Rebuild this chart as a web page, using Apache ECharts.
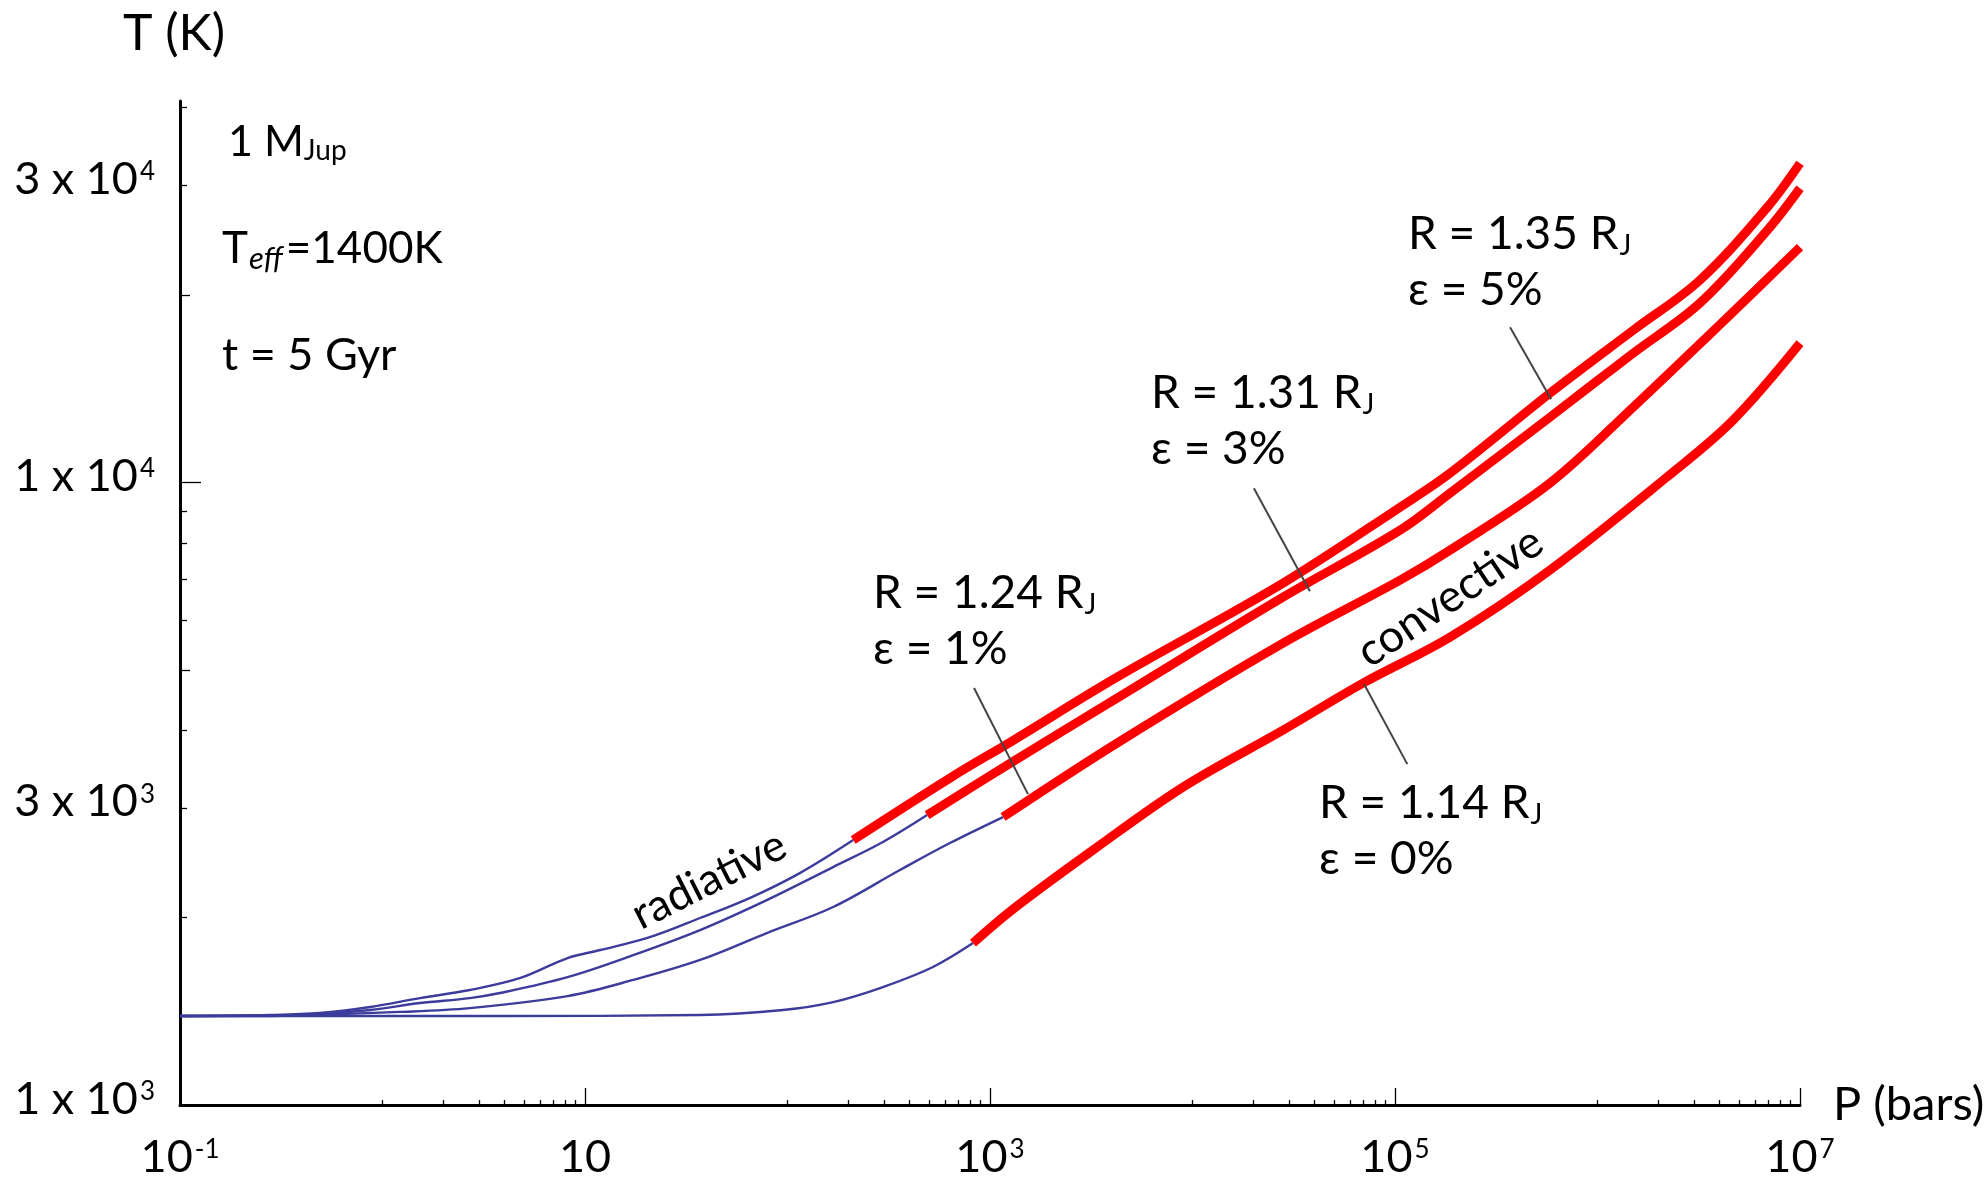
<!DOCTYPE html>
<html>
<head>
<meta charset="utf-8">
<script src="https://cdn.jsdelivr.net/npm/echarts@6/dist/echarts.min.js"></script>
<style>
  html, body { margin: 0; padding: 0; background: #ffffff; }
  #chart { width: 1986px; height: 1180px; }
</style>
</head>
<body>
<div id="chart"></div>
<script>
// Interior temperature-pressure profiles of a 1 M_Jup planet (Teff = 1400 K, t = 5 Gyr)
// for several heating efficiencies. Each profile: radiative part (thin) + convective part (thick).
const FONT = 'Lato, "Noto Sans", "DejaVu Sans", sans-serif';

// [P (bar), T (K)]
const radiative5 = [[0.1, 1390], [0.28, 1395], [0.49, 1405], [0.87, 1437], [1.53, 1485], [2.7, 1530], [4.8, 1600], [8.2, 1722], [11.9, 1774], [20.9, 1861], [37, 1997], [65, 2150], [115, 2358], [211, 2665]];
const convective5 = [[211, 2665], [634, 3351], [1285, 3843], [4240, 4867], [28000, 6891], [1.06e5, 9128], [1.87e5, 10350], [5.82e5, 13910], [1.5e6, 17560], [3.2e6, 21130], [6.9e6, 27680], [1e7, 32570]];

const radiative3 = [[0.1, 1390], [0.28, 1390], [0.49, 1400], [0.87, 1421], [1.53, 1458], [2.7, 1485], [3.8, 1513], [8.2, 1605], [17.3, 1741], [37, 1910], [79, 2134], [168, 2411], [296, 2645], [489, 2922]];
const convective3 = [[489, 2922], [1285, 3555], [4240, 4504], [28000, 6543], [1.06e5, 8382], [1.87e5, 9612], [5.82e5, 12730], [1.5e6, 16130], [3.2e6, 19410], [6.9e6, 25420], [1e7, 29690]];

const radiative1 = [[0.1, 1390], [0.39, 1395], [1.22, 1411], [2.7, 1431], [8.2, 1496], [17.3, 1588], [37, 1710], [79, 1889], [168, 2080], [359, 2385], [634, 2635], [1160, 2901]];
const convective1 = [[1160, 2901], [4240, 3814], [28000, 5520], [1.06e5, 6968], [1.87e5, 7786], [5.82e5, 9975], [1.5e6, 13210], [3.9e6, 17760], [1e7, 23880]];

const radiative0 = [[0.1, 1390], [3.8, 1390], [37, 1395], [95, 1421], [168, 1463], [296, 1547], [523, 1666], [824, 1820]];
const convective0 = [[824, 1820], [1300, 2064], [3230, 2568], [8980, 3241], [28000, 4001], [69500, 4761], [1.87e5, 5644], [5.82e5, 7232], [2.2e6, 10200], [4.67e6, 12590], [1e7, 16740]];

// leader lines from each label to its profile, [P, T]
const leader5 = [[3.7e5, 17760], [5.9e5, 13610]];
const leader3 = [[20100, 9790], [38000, 6690]];
const leader1 = [[834, 4675], [1540, 3158]];
const leader0 = [[1.15e5, 3528], [70300, 4745]];

// axis ticks
const yTickValues = [1000, 3000, 10000, 30000];
const yTickMantissa = ['1', '3', '1', '3'];
const yTickExponent = ['3', '3', '4', '4'];
const yLongTicks = [10000];
const yMidTicks = [5000, 20000];
const yShortTicks = [2000, 3000, 4000, 6000, 7000, 8000, 9000, 30000, 40000];

const xTickValues = [0.1, 10, 1e3, 1e5, 1e7];
const xTickExponent = ['-1', '', '3', '5', '7'];
const xLongTicks = [10, 1e3, 1e5, 1e7];
const xShortTicks = [
  1, 2, 3, 4, 5, 6, 7, 8, 9,
  100, 200, 300, 400, 500, 600, 700, 800, 900,
  1e4, 2e4, 3e4, 4e4, 5e4, 6e4, 7e4, 8e4, 9e4,
  1e6, 2e6, 3e6, 4e6, 5e6, 6e6, 7e6, 8e6, 9e6
];

// labels
const curveLabels = [
  { radius: 'R = 1.35 R', eps: 'ε = 5%' },
  { radius: 'R = 1.31 R', eps: 'ε = 3%' },
  { radius: 'R = 1.24 R', eps: 'ε = 1%' },
  { radius: 'R = 1.14 R', eps: 'ε = 0%' }
];

const T_MIN = 1000, T_MAX = 41000, P_MIN = 0.1, P_MAX = 1e7;

function nearestIndex(list, v) {
  let best = 0, bd = Infinity;
  list.forEach((t, i) => {
    const d = Math.abs(Math.log10(t) - Math.log10(v));
    if (d < bd) { bd = d; best = i; }
  });
  return best;
}

// ---- text helper: runs of text sharing one baseline ----
const mctx = document.createElement('canvas').getContext('2d');
function fontOf(size, italic) { return (italic ? 'italic ' : '') + size + 'px ' + FONT; }
function textRun(x, baseline, parts) {
  const out = [];
  let cx = x;
  parts.forEach(p => {
    const f = fontOf(p.size, p.italic);
    mctx.font = f;
    mctx.textBaseline = 'middle';
    const off = mctx.measureText('H').actualBoundingBoxDescent;
    cx += (p.gap || 0);
    out.push({
      type: 'text', x: cx, y: baseline + (p.dy || 0) - off, silent: true, z: 100,
      style: { text: p.text, font: f, fill: '#000', align: 'left', verticalAlign: 'middle' }
    });
    cx += mctx.measureText(p.text).width;
  });
  return out;
}

const MAIN = 46, SUB = 28;
function curveLabel(x, y, lab) {
  return textRun(x, y, [{ text: lab.radius, size: MAIN }, { text: 'J', size: SUB, dy: 6, gap: 1 }])
    .concat(textRun(x, y + 56, [{ text: lab.eps, size: MAIN }]));
}

const graphics = []
  .concat(textRun(228, 156, [{ text: '1 M', size: 43 }, { text: 'Jup', size: SUB, dy: 4 }]))
  .concat(textRun(222, 263, [{ text: 'T', size: 44 }, { text: 'eff', size: 31, italic: true, dy: 6, gap: 1 }, { text: '=1400K', size: 44, gap: 3 }]))
  .concat(textRun(222, 370, [{ text: 't = 5 Gyr', size: 45 }]))
  .concat(curveLabel(1408, 249, curveLabels[0]))
  .concat(curveLabel(1151, 408, curveLabels[1]))
  .concat(curveLabel(873, 608, curveLabels[2]))
  .concat(curveLabel(1319, 818, curveLabels[3]))
  .concat([
    {
      type: 'text', x: 709, y: 880, rotation: 26.8 * Math.PI / 180, silent: true, z: 100,
      style: { text: 'radiative', font: fontOf(44), fill: '#000', align: 'center', verticalAlign: 'middle' }
    },
    {
      type: 'text', x: 1450, y: 597, rotation: 34 * Math.PI / 180, silent: true, z: 100,
      style: { text: 'convective', font: fontOf(45), fill: '#000', align: 'center', verticalAlign: 'middle' }
    }
  ]);

const BLUE = '#3c3c9c', RED = '#ff0000';
function profile(data, thick) {
  return {
    type: 'line', data: data, showSymbol: false, symbol: 'none', smooth: 0.35,
    silent: true, z: thick ? 3 : 2,
    lineStyle: { color: thick ? RED : BLUE, width: thick ? 9 : 2.4, cap: 'butt', join: 'round' }
  };
}
function leader(data) {
  return {
    type: 'line', data: data, showSymbol: false, symbol: 'none', silent: true, z: 4,
    lineStyle: { color: '#444444', width: 2 }
  };
}

const yBase = { type: 'log', logBase: 10, min: T_MIN, max: T_MAX, position: 'left', offset: 0, splitLine: { show: false } };
const xBase = { type: 'log', logBase: 10, min: P_MIN, max: P_MAX, position: 'bottom', offset: 0, splitLine: { show: false } };

const option = {
  animation: false,
  backgroundColor: '#ffffff',
  grid: { left: 180, right: 186, top: 101, bottom: 75, containLabel: false, outerBoundsMode: 'none' },
  xAxis: [
    Object.assign({}, xBase, {
      name: 'P (bars)', nameLocation: 'end', nameGap: 33,
      nameTextStyle: { fontFamily: FONT, fontSize: 47, color: '#000', padding: [0, 0, 4, 0] },
      axisLine: { show: true, lineStyle: { color: '#000', width: 3 } },
      axisTick: { show: true, inside: true, length: 17, customValues: xLongTicks, lineStyle: { color: '#000', width: 1.3 } },
      axisLabel: {
        show: true, margin: 30, customValues: xTickValues,
        formatter: v => {
          const e = xTickExponent[nearestIndex(xTickValues, v)];
          return e ? '{m|10}{s|' + e + '}' : '{m|10}';
        },
        rich: {
          m: { fontFamily: FONT, fontSize: 45, color: '#000' },
          s: { fontFamily: FONT, fontSize: 26, color: '#000', verticalAlign: 'top', padding: [2, 0, 0, 2] }
        }
      }
    }),
    Object.assign({}, xBase, {
      axisLine: { show: false },
      axisTick: { show: true, inside: true, length: 5, customValues: xShortTicks, lineStyle: { color: '#000', width: 1.3 } },
      axisLabel: { show: false }
    })
  ],
  yAxis: [
    Object.assign({}, yBase, {
      name: 'T (K)', nameLocation: 'end', nameGap: 42,
      nameTextStyle: { fontFamily: FONT, fontSize: 50, color: '#000', align: 'center', padding: [0, 12, 0, 0] },
      axisLine: { show: true, lineStyle: { color: '#000', width: 3 } },
      axisTick: { show: true, inside: true, length: 21, customValues: yLongTicks, lineStyle: { color: '#000', width: 1.3 } },
      axisLabel: {
        show: true, margin: 25, customValues: yTickValues, padding: [0, 0, 12, 0],
        formatter: v => {
          const i = nearestIndex(yTickValues, v);
          return '{m|' + yTickMantissa[i] + ' x 10}{s|' + yTickExponent[i] + '}';
        },
        rich: {
          m: { fontFamily: FONT, fontSize: 45, color: '#000' },
          s: { fontFamily: FONT, fontSize: 26, color: '#000', verticalAlign: 'top', padding: [2, 0, 0, 2] }
        }
      }
    }),
    Object.assign({}, yBase, {
      axisLine: { show: false },
      axisTick: { show: true, inside: true, length: 10, customValues: yMidTicks, lineStyle: { color: '#000', width: 1.3 } },
      axisLabel: { show: false }
    }),
    Object.assign({}, yBase, {
      axisLine: { show: false },
      axisTick: { show: true, inside: true, length: 7, customValues: yShortTicks, lineStyle: { color: '#000', width: 1.3 } },
      axisLabel: { show: false }
    })
  ],
  series: [
    profile(radiative5, false), profile(radiative3, false), profile(radiative1, false), profile(radiative0, false),
    profile(convective5, true), profile(convective3, true), profile(convective1, true), profile(convective0, true),
    leader(leader5), leader(leader3), leader(leader1), leader(leader0)
  ],
  graphic: graphics
};

const chart = echarts.init(document.getElementById('chart'), null, { renderer: 'canvas' });
chart.setOption(option);
</script>
</body>
</html>
